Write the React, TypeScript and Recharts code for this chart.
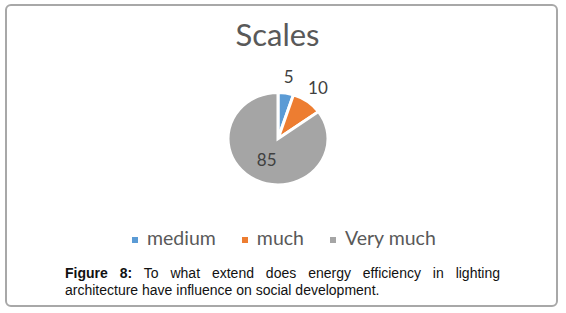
import React from 'react';
import { PieChart, Pie, Cell, Legend } from 'recharts';

const categories = ['medium', 'much', 'Very much'];
const values = [5, 10, 85];
const colors = ['#5b9bd5', '#ed7d31', '#a5a5a5'];
const title = 'Scales';
const captionBold = 'Figure 8:';
const captionText = ' To what extend does energy efficiency in lighting architecture have influence on social development.';

const data = categories.map((name, i) => ({ name, value: values[i] }));

const SQUASH = 0.923;
const CX = 278;
const CY = 138.7;
const LABEL_FONT = 'Lato, "Open Sans", sans-serif';

const renderLabel = (p: any) => {
  const { cx, cy, midAngle, outerRadius, percent, value } = p;
  const RAD = Math.PI / 180;
  const inside = percent > 0.5;
  const r = inside ? outerRadius * 0.5 : outerRadius + 18;
  const x = cx + r * Math.cos(-midAngle * RAD);
  const y = cy + r * Math.sin(-midAngle * RAD) * SQUASH;
  return (
    <text
      x={x}
      y={y}
      textAnchor="middle"
      dominantBaseline="central"
      fill="#404040"
      fontSize={17}
      fontFamily={LABEL_FONT}
    >
      {value}
    </text>
  );
};

const renderLegend = (props: any) => {
  const payload = [...(props.payload || [])].sort(
    (a: any, b: any) => categories.indexOf(a.value) - categories.indexOf(b.value)
  );
  return (
    <div
      style={{
        display: 'flex',
        alignItems: 'center',
        whiteSpace: 'nowrap',
        fontFamily: LABEL_FONT,
        fontSize: 19.5,
        lineHeight: '20px',
        color: '#595959',
      }}
    >
      {payload.map((entry: any, i: number) => (
        <span
          key={i}
          style={{ display: 'flex', alignItems: 'center', marginRight: 26 }}
        >
          <span
            style={{
              display: 'inline-block',
              width: 6,
              height: 6,
              background: entry.color,
              marginRight: 9,
              position: 'relative',
              top: 1.5,
            }}
          />
          <span>{entry.value}</span>
        </span>
      ))}
    </div>
  );
};

export default function App() {
  return (
    <div style={{ position: 'absolute', left: 0, top: 0, width: 566, height: 313, background: '#fff' }}>
      <style>{`.recharts-sector{transform-box:view-box;transform-origin:${CX}px ${CY}px;transform:scaleY(${SQUASH});}`}</style>
      <div
        style={{
          position: 'absolute',
          left: 5,
          top: 4,
          width: 553,
          height: 303,
          boxSizing: 'border-box',
          border: '2px solid #a8a8a8',
          borderRadius: 6,
        }}
      />
      <svg width={566} height={313} style={{ position: 'absolute', left: 0, top: 0 }}>
        <text
          x={277.5}
          y={46}
          textAnchor="middle"
          fill="#595959"
          fontSize={31}
          fontFamily={LABEL_FONT}
        >
          {title}
        </text>
      </svg>
      <div style={{ position: 'absolute', left: 0, top: 0 }}>
        <PieChart width={566} height={313} margin={{ top: 0, right: 0, bottom: 0, left: 0 }}>
          <Pie
            data={data}
            dataKey="value"
            nameKey="name"
            cx={CX}
            cy={CY}
            outerRadius={50}
            startAngle={90}
            endAngle={-270}
            stroke="#ffffff"
            strokeWidth={3}
            label={renderLabel}
            labelLine={false}
            isAnimationActive={false}
          >
            {data.map((d, i) => (
              <Cell key={d.name} fill={colors[i]} />
            ))}
          </Pie>
          <Legend
            content={renderLegend}
            wrapperStyle={{ left: 132, top: 228, width: 400, height: 20 }}
          />
        </PieChart>
      </div>
      <div
        style={{
          position: 'absolute',
          left: 65,
          top: 264.6,
          width: 435,
          fontFamily: 'Arial, "Liberation Sans", sans-serif',
          fontSize: 14,
          lineHeight: '17px',
          textAlign: 'justify',
          color: '#111',
        }}
      >
        <b>{captionBold}</b>
        {captionText}
      </div>
    </div>
  );
}
